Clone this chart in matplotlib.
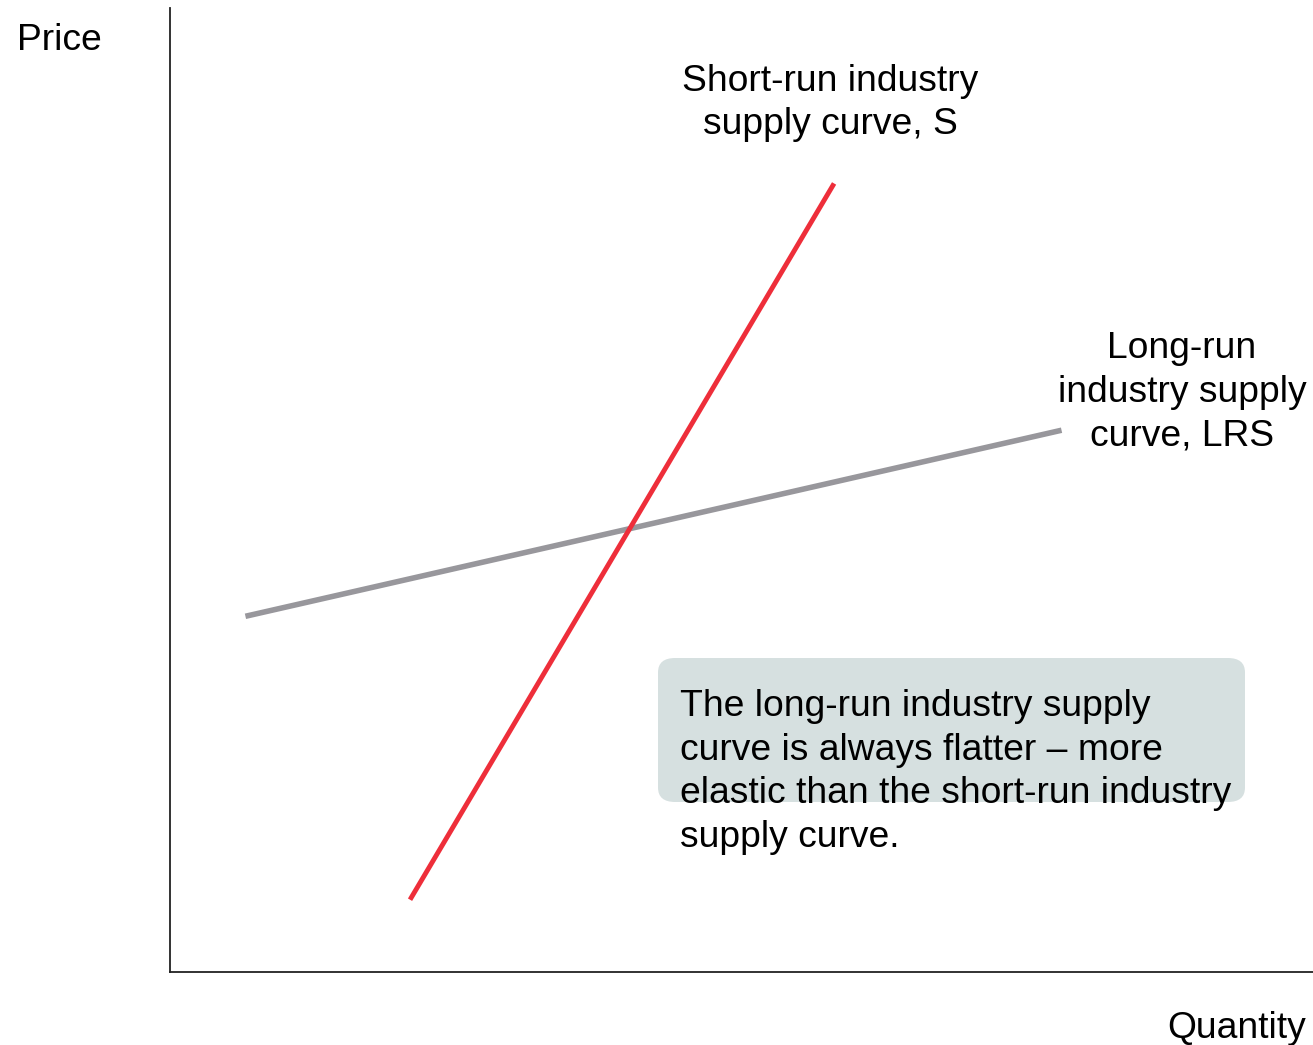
import matplotlib
matplotlib.use('Agg')
import matplotlib.pyplot as plt
from matplotlib.patches import FancyBboxPatch

plt.rcParams['font.family'] = ['Liberation Sans', 'DejaVu Sans']

#-------------------------------------------------------------------------
# data (axis runs 0..10 both ways)
#-------------------------------------------------------------------------
sr_x = [2.10, 5.81]
sr_y = [0.75, 8.18]
lr_x = [0.66, 7.80]
lr_y = [3.69, 5.62]

sr_label = 'Short-run industry\nsupply curve, S'
lr_label = 'Long-run\nindustry supply\ncurve, LRS'
note_text = ('The long-run industry supply\n'
             'curve is always flatter \u2013 more\n'
             'elastic than the short-run industry\n'
             'supply curve.')

W, H = 1313, 1045
fig = plt.figure(figsize=(W / 100, H / 100), dpi=100)
ax = fig.add_axes([170 / W, (H - 972) / H, (W - 170) / W, (972 - 8) / H])
ax.set_xlim(0, 10)
ax.set_ylim(0, 10)
for side in ['top', 'right']:
    ax.spines[side].set_visible(False)
for side in ['left', 'bottom']:
    ax.spines[side].set_linewidth(1.3)
    ax.spines[side].set_color('#222222')
ax.set_xticks([])
ax.set_yticks([])

# note box
box = FancyBboxPatch(((658 - 170) / 114.3, (972 - 802) / 96.4),
                     (1245 - 658) / 114.3, (802 - 658) / 96.4,
                     boxstyle='round,pad=0,rounding_size=0.15',
                     facecolor='#d6e0e0', edgecolor='none', zorder=1)
ax.add_patch(box)

ax.plot(lr_x, lr_y, color='#98979c', lw=4, solid_capstyle='butt', zorder=2)
ax.plot(sr_x, sr_y, color='#ee2e3a', lw=3.5, solid_capstyle='butt', zorder=3)

fs = 26.8
ls = 1.32
fig.text(17 / W, 1 - 40 / H, 'Price', fontsize=fs, ha='left', va='center')
fig.text(1306 / W, 1 - 1028 / H, 'Quantity', fontsize=fs, ha='right', va='center')
fig.text(830 / W, 1 - 103 / H, sr_label, fontsize=fs, ha='center', va='center',
         linespacing=ls)
fig.text(1182 / W, 1 - 392 / H, lr_label, fontsize=fs, ha='center', va='center',
         linespacing=ls)
fig.text(680 / W, 1 - 772 / H, note_text, fontsize=fs, ha='left', va='center',
         linespacing=ls, zorder=4)

fig.savefig('out.png', dpi=100)
